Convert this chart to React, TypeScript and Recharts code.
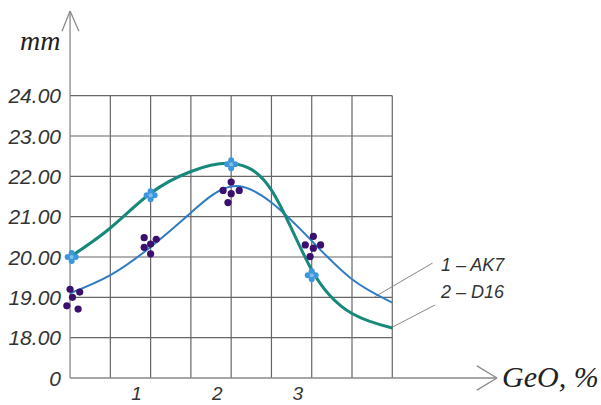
import {
  ComposedChart,
  Line,
  Scatter,
  XAxis,
  YAxis,
  ReferenceLine,
} from "recharts"

// GeO content, %, of the fitted curves
const curveX = [0, 0.5, 1, 1.5, 2, 2.5, 3, 3.5, 4]
const ak7Curve = [19.1, 19.55, 20.25, 21.1, 21.75, 21.35, 20.4, 19.45, 18.87]
const d16Curve = [20.0, 20.72, 21.58, 22.12, 22.32, 21.66, 19.68, 18.6, 18.24]

// measured points, AK7 (purple dots)
const ak7PointX = [0, 0.12, 0.03, -0.04, 0.1, 0.92, 1.07, 0.92, 1.0, 1.0, 2.0, 1.9, 2.1, 2.0, 1.96, 3.02, 2.92, 3.11, 3.02, 2.98]
const ak7PointY = [19.2, 19.13, 19.0, 18.79, 18.71, 20.48, 20.44, 20.24, 20.32, 20.08, 21.86, 21.65, 21.65, 21.57, 21.35, 20.51, 20.3, 20.3, 20.22, 20.01]

// measured points, D16 (blue crosses)
const d16PointX = [0.02, 1.0, 2.0, 3.0]
const d16PointY = [20.0, 21.53, 22.3, 19.55]

const xTicks = [1, 2, 3]
const yTicks = [17, 18, 19, 20, 21, 22, 23, 24]
const gridX = [0.5, 1, 1.5, 2, 2.5, 3, 3.5, 4]
const gridY = [18, 19, 20, 21, 22, 23, 24]

const ak7Line = curveX.map((x, i) => ({ x, y: ak7Curve[i] }))
const d16Line = curveX.map((x, i) => ({ x, y: d16Curve[i] }))
const ak7Dots = ak7PointX.map((x, i) => ({ x, y: ak7PointY[i] }))
const d16Dots = d16PointX.map((x, i) => ({ x, y: d16PointY[i] }))

const GRID = "#666"
const AXIS = "#8a8a8a"
const TICK_FONT = "'Liberation Sans', Arial, sans-serif"

function YTick({ x, y, payload }: any) {
  const v = payload.value
  return (
    <text x={x} y={y} dy={7.5} textAnchor="end" fontFamily={TICK_FONT} fontStyle="italic" fontSize={21} fill="#333">
      {v === 17 ? "0" : v.toFixed(2)}
    </text>
  )
}

function XTick({ x, y, payload }: any) {
  return (
    <text x={x - 14} y={y} dy={22} textAnchor="middle" fontFamily={TICK_FONT} fontStyle="italic" fontSize={19} fill="#333">
      {payload.value}
    </text>
  )
}

function PlusMarker({ cx, cy }: any) {
  const c = "#3d97db"
  return (
    <g>
      <circle cx={cx - 4} cy={cy} r={3} fill={c} />
      <circle cx={cx + 4} cy={cy} r={3} fill={c} />
      <circle cx={cx} cy={cy - 4} r={3} fill={c} />
      <circle cx={cx} cy={cy + 4} r={3} fill={c} />
      <circle cx={cx} cy={cy} r={2} fill="#7fc0ee" />
    </g>
  )
}

function Dot({ cx, cy }: any) {
  return <circle cx={cx} cy={cy} r={3.6} fill="#3a0f6e" />
}

export default function App() {
  return (
    <div style={{ position: "absolute", left: 0, top: 0 }}>
      <ComposedChart
        width={601}
        height={405}
        margin={{ top: 11, right: 104, left: 0, bottom: 0 }}
      >
        <XAxis
          dataKey="x"
          type="number"
          domain={[-0.1, 5.3]}
          ticks={xTicks}
          axisLine={false}
          tickLine={false}
          tickSize={0}
          tickMargin={0}
          height={27}
          tick={<XTick />}
          allowDuplicatedCategory={false}
        />
        <YAxis
          type="number"
          domain={[17, 26.1]}
          ticks={yTicks}
          axisLine={false}
          tickLine={false}
          tickSize={0}
          tickMargin={1}
          width={62}
          tick={<YTick />}
        />

        {gridX.map((v) => (
          <ReferenceLine key={"gx" + v} segment={[{ x: v, y: 17 }, { x: v, y: 24 }]} stroke={GRID} strokeWidth={1.2} />
        ))}
        {gridY.map((v) => (
          <ReferenceLine key={"gy" + v} segment={[{ x: 0, y: v }, { x: 4, y: v }]} stroke={GRID} strokeWidth={1.2} />
        ))}

        {/* axes with arrows */}
        <ReferenceLine segment={[{ x: 0, y: 17 }, { x: 0, y: 26.1 }]} stroke={AXIS} strokeWidth={1.3} ifOverflow="visible" />
        <ReferenceLine segment={[{ x: -0.1, y: 25.6 }, { x: 0, y: 26.1 }]} stroke={AXIS} strokeWidth={1.3} ifOverflow="visible" />
        <ReferenceLine segment={[{ x: 0.11, y: 25.6 }, { x: 0, y: 26.1 }]} stroke={AXIS} strokeWidth={1.3} ifOverflow="visible" />
        <ReferenceLine segment={[{ x: 0, y: 17 }, { x: 5.3, y: 17 }]} stroke={AXIS} strokeWidth={1.3} ifOverflow="visible" />
        <ReferenceLine segment={[{ x: 5.05, y: 17.3 }, { x: 5.3, y: 17 }]} stroke={AXIS} strokeWidth={1.3} ifOverflow="visible" />
        <ReferenceLine segment={[{ x: 5.05, y: 16.7 }, { x: 5.3, y: 17 }]} stroke={AXIS} strokeWidth={1.3} ifOverflow="visible" />

        {/* legend leaders */}
        <ReferenceLine segment={[{ x: 3.78, y: 19.01 }, { x: 4.5, y: 19.85 }]} stroke="#888" strokeWidth={1} ifOverflow="visible" />
        <ReferenceLine segment={[{ x: 4.01, y: 18.27 }, { x: 4.53, y: 18.81 }]} stroke="#888" strokeWidth={1} ifOverflow="visible" />

        <Line data={ak7Line} dataKey="y" type="natural" stroke="#2e7cc4" strokeWidth={2} dot={false} isAnimationActive={false} />
        <Line data={d16Line} dataKey="y" type="natural" stroke="#17897b" strokeWidth={3} dot={false} isAnimationActive={false} />
        <Scatter data={ak7Dots} dataKey="y" shape={<Dot />} isAnimationActive={false} />
        <Scatter data={d16Dots} dataKey="y" shape={<PlusMarker />} isAnimationActive={false} />

        <text x={20} y={50} fontFamily="'Liberation Serif', serif" fontStyle="italic" fontSize={28} fill="#222">mm</text>
        <text x={502} y={387} fontFamily="'Liberation Serif', serif" fontStyle="italic" fontSize={30} fill="#222">GeO, %</text>
        <text x={441} y={271} fontFamily={TICK_FONT} fontStyle="italic" fontSize={18} fill="#333">1 – AK7</text>
        <text x={441} y={298} fontFamily={TICK_FONT} fontStyle="italic" fontSize={18} fill="#333">2 – D16</text>
      </ComposedChart>
    </div>
  )
}
